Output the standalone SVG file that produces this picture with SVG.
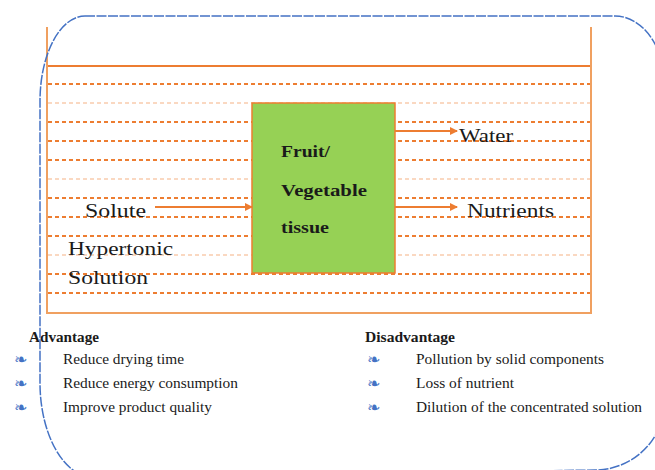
<svg xmlns="http://www.w3.org/2000/svg" width="655" height="470" viewBox="0 0 655 470">
<style>
.t{font-family:"Liberation Serif","Times New Roman",serif;fill:#1a1a1a;}
.b{font-weight:bold;}
.dl{stroke:#ED7D31;stroke-width:2;stroke-dasharray:4 3;fill:none;}
.lt{opacity:0.3;}
.wall{stroke:#F0A060;stroke-width:2;fill:none;}
.arr{stroke:#ED7D31;stroke-width:2.2;fill:none;marker-end:url(#ah);}
.bul{font-family:"DejaVu Sans",sans-serif;fill:#4472C4;font-size:16px;}
</style>
<defs>
<marker id="ah" markerWidth="8" markerHeight="8" refX="7" refY="4" orient="auto" markerUnits="userSpaceOnUse">
<path d="M0,0 L8,4 L0,8 Z" fill="#ED7D31"/>
</marker>
</defs>
<rect width="655" height="470" fill="#ffffff"/>
<g id="solution">
<g id="dashes">
<line class="dl" x1="48" y1="84" x2="590" y2="84"/>
<line class="dl lt" x1="48" y1="103" x2="590" y2="103"/>
<line class="dl" x1="48" y1="122" x2="590" y2="122"/>
<line class="dl" x1="48" y1="141" x2="590" y2="141"/>
<line class="dl" x1="48" y1="160" x2="590" y2="160"/>
<line class="dl lt" x1="48" y1="179" x2="590" y2="179"/>
<line class="dl" x1="48" y1="198" x2="590" y2="198"/>
<line class="dl" x1="48" y1="217" x2="590" y2="217"/>
<line class="dl" x1="48" y1="236" x2="590" y2="236"/>
<line class="dl lt" x1="48" y1="255" x2="590" y2="255"/>
<line class="dl" x1="48" y1="274" x2="590" y2="274"/>
<line class="dl" x1="48" y1="293" x2="590" y2="293"/>
</g>
<line x1="47" y1="66" x2="591" y2="66" stroke="#ED7D31" stroke-width="2"/>
<path class="wall" d="M47,27 L47,313 L591,313 L591,27"/>
<text class="t" x="68" y="255" font-size="19" textLength="105" lengthAdjust="spacingAndGlyphs">Hypertonic</text>
<text class="t" x="68" y="284" font-size="19" textLength="80" lengthAdjust="spacingAndGlyphs">Solution</text>
</g>
<g id="tissue">
<rect x="252" y="103" width="143" height="170" fill="#96D155" stroke="#ED7D31" stroke-width="1.5"/>
<text class="t b" x="281" y="157" font-size="17" textLength="49" lengthAdjust="spacingAndGlyphs">Fruit/</text>
<text class="t b" x="281" y="196" font-size="17" textLength="86" lengthAdjust="spacingAndGlyphs">Vegetable</text>
<text class="t b" x="281" y="233" font-size="17" textLength="48" lengthAdjust="spacingAndGlyphs">tissue</text>
</g>
<g id="solute">
<text class="t" x="85" y="217" font-size="19" textLength="61" lengthAdjust="spacingAndGlyphs">Solute</text>
</g>
<g id="water">
<text class="t" x="459" y="142" font-size="19" textLength="54" lengthAdjust="spacingAndGlyphs">Water</text>
</g>
<g id="nutrients">
<text class="t" x="467" y="217" font-size="19" textLength="87" lengthAdjust="spacingAndGlyphs">Nutrients</text>
</g>
<g id="connectors">
<line class="arr" x1="155" y1="207" x2="252" y2="207"/>
<line class="arr" x1="395" y1="131" x2="457" y2="131"/>
<line class="arr" x1="395" y1="207" x2="457" y2="207"/>
</g>
<g id="advantage">
<text class="t b" x="29" y="342" font-size="15" textLength="70" lengthAdjust="spacingAndGlyphs">Advantage</text>
<text class="bul" x="14" y="365">❧</text>
<text class="bul" x="14" y="389">❧</text>
<text class="bul" x="14" y="413">❧</text>
<text class="t" x="63" y="364" font-size="15" textLength="121" lengthAdjust="spacingAndGlyphs">Reduce drying time</text>
<text class="t" x="63" y="388" font-size="15" textLength="175" lengthAdjust="spacingAndGlyphs">Reduce energy consumption</text>
<text class="t" x="63" y="412" font-size="15" textLength="149" lengthAdjust="spacingAndGlyphs">Improve product quality</text>
</g>
<g id="disadvantage">
<text class="t b" x="365" y="342" font-size="15" textLength="90" lengthAdjust="spacingAndGlyphs">Disadvantage</text>
<text class="bul" x="367" y="365">❧</text>
<text class="bul" x="367" y="389">❧</text>
<text class="bul" x="367" y="413">❧</text>
<text class="t" x="416" y="364" font-size="15" textLength="188" lengthAdjust="spacingAndGlyphs">Pollution by solid components</text>
<text class="t" x="416" y="388" font-size="15" textLength="98" lengthAdjust="spacingAndGlyphs">Loss of nutrient</text>
<text class="t" x="416" y="412" font-size="15" textLength="226" lengthAdjust="spacingAndGlyphs">Dilution of the concentrated solution</text>
</g>
<g id="frame">
<path d="M85,16 L615,16 A50,70 0 0 1 665,86 L665,400 A70,70 0 0 1 595,470 L95,478 A55,95 0 0 1 40,383 L40,101 A45,85 0 0 1 85,16 Z" fill="none" stroke="#4472C4" stroke-width="1.5" stroke-dasharray="10 1.5"/>
</g>
</svg>
